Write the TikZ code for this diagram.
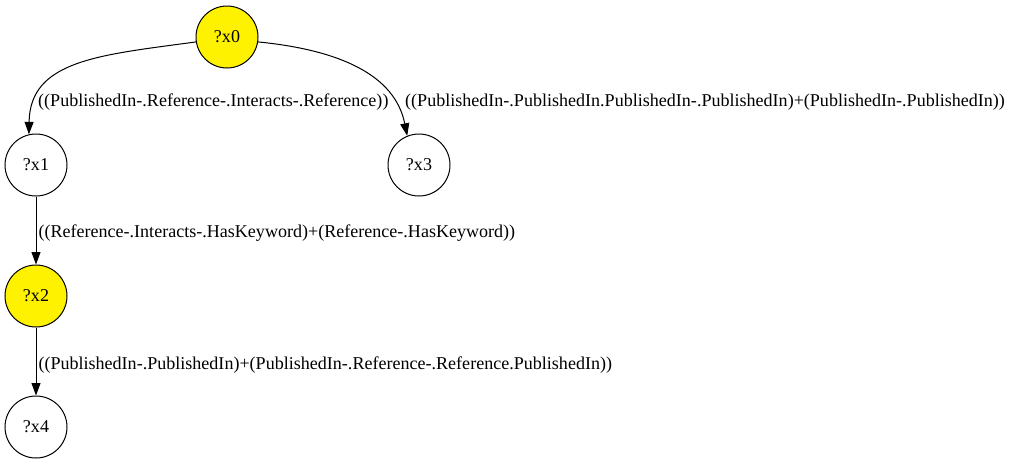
\documentclass[tikz,border=0pt]{standalone}
\usepackage{fontspec}
\setmainfont{Liberation Serif}
\usetikzlibrary{arrows.meta}

\begin{document}
\begin{tikzpicture}[x=1pt, y=-1pt, font=\fontsize{18.05}{21}\selectfont,
  var/.style={draw, circle, minimum size=62pt, inner sep=0pt, line width=1pt},
  hit/.style={var, fill=yellow},
  edge/.style={-{Triangle[length=12.5pt,width=9pt]}, line width=1pt},
  lbl/.style={anchor=west, inner sep=0pt}]

  \useasboundingbox (0,0) rectangle (1011,464);

  % variables
  \node[hit] (x0) at (227,37) {?x0};
  \node[var] (x1) at (36,165) {?x1};
  \node[var] (x3) at (419,165) {?x3};
  \node[hit] (x2) at (36,296) {?x2};
  \node[var] (x4) at (36,427) {?x4};

  % curved edges out of x0
  \draw[edge] (x0.189) .. controls (100,55) and (30,60) .. (x1.103);
  \draw[edge] (x0.-9) .. controls (340,50) and (395,75) .. (x3.112);
  \node[lbl] (l01) at (38,102) {((PublishedIn-.Reference-.Interacts-.Reference))};
  \node[lbl] (l03) at (405,102) {((PublishedIn-.PublishedIn.PublishedIn-.PublishedIn)+(PublishedIn-.PublishedIn))};

  % straight edges down the left column
  \draw[edge] (x1) -- node[lbl, midway, xshift=2pt, yshift=-3pt] (l12) {((Reference-.Interacts-.HasKeyword)+(Reference-.HasKeyword))} (x2);
  \draw[edge] (x2) -- node[lbl, midway, xshift=2pt, yshift=-3.5pt] (l24) {((PublishedIn-.PublishedIn)+(PublishedIn-.Reference-.Reference.PublishedIn))} (x4);
\end{tikzpicture}
\end{document}
